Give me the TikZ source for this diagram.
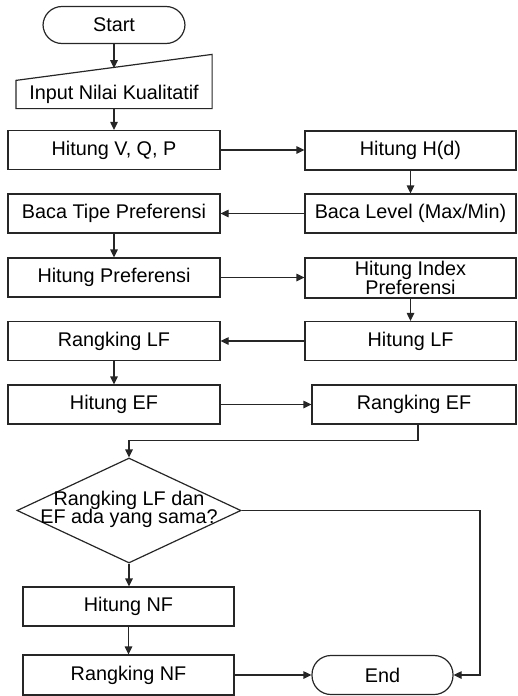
\documentclass[tikz,border=0pt]{standalone}
\usepackage{fontspec}
\setmainfont{Liberation Sans}
\usetikzlibrary{arrows.meta,shapes.geometric}
\begin{document}
\begin{tikzpicture}[x=1pt,y=-1pt,
  line width=1.2pt,
  every node/.style={font=\fontsize{19.8}{18.5}\selectfont, inner sep=0pt, align=center},
  proc/.style={draw=black!85, rectangle, minimum height=39pt},
  term/.style={draw=black!85, rectangle, rounded corners=19pt, minimum height=37pt},
  decision/.style={draw=black!85, diamond, minimum width=224pt, minimum height=105pt},
  arr/.style={draw=black!85, -{Triangle[length=8pt,width=7.5pt]}},
  ln/.style={draw=black!85}
]
\useasboundingbox (0,0) rectangle (517,696);

% start
\node[term, minimum width=142pt] (start) at (114,25) {Start};

% manual input: text node plus its slanted outline
\node[minimum width=195pt, minimum height=27pt] (input) at (114,94.5) {Input Nilai Kualitatif};
\draw[ln] (input.north west) -- ([yshift=26pt]input.north east) -- (input.south east) -- (input.south west) -- cycle;
\coordinate (intop) at (114,68.2);

% left column
\node[proc, minimum width=212pt] (hvqp)     at (114,150)   {Hitung V, Q, P};
\node[proc, minimum width=212pt] (bacatipe) at (114,213.5) {Baca Tipe Preferensi};
\node[proc, minimum width=212pt] (hpref)    at (114,277.5) {Hitung Preferensi};
\node[proc, minimum width=212pt] (rlf)      at (114,341)   {Rangking LF};
\node[proc, minimum width=212pt] (hef)      at (114,404.5) {Hitung EF};

% right column
\node[proc, minimum width=211pt] (hd)     at (410.5,150.5) {Hitung H(d)};
\node[proc, minimum width=211pt] (blevel) at (410.5,213.5) {Baca Level (Max/Min)};
\node[proc, minimum width=211pt, minimum height=40pt] (hindex) at (410.5,278) {Hitung Index\\Preferensi};
\node[proc, minimum width=211pt] (hlf)    at (410.5,341)   {Hitung LF};
\node[proc, minimum width=204pt] (ref)    at (414,404.5)   {Rangking EF};

% decision and closing steps
\node[decision] (dec) at (129,510.5) {};
\node (dectext) at (129,509.5) {Rangking LF dan\\EF ada yang sama?};
\node[proc, minimum width=211pt] (hnf) at (128.5,606.5) {Hitung NF};
\node[proc, minimum width=211pt, minimum height=40pt] (rnf) at (128.5,675) {Rangking NF};
\node[term, minimum width=141pt, minimum height=39pt] (end) at (382.5,675) {End};

\coordinate (join) at (129,440.5);
\coordinate (rside) at (480,0);

% connectors
\draw[arr] (start.south) -- (intop);
\draw[arr] (input.south) -- (hvqp.north);
\draw[arr] (hvqp.east) -- (hvqp.east -| hd.west);
\draw[arr] (hd.south) -- (blevel.north);
\draw[arr] (blevel.west) -- (blevel.west -| bacatipe.east);
\draw[arr] (bacatipe.south) -- (hpref.north);
\draw[arr] (hpref.east) -- (hpref.east -| hindex.west);
\draw[arr] (hindex.south) -- (hlf.north);
\draw[arr] (hlf.west) -- (rlf.east);
\draw[arr] (rlf.south) -- (hef.north);
\draw[arr] (hef.east) -- (ref.west);
\draw[arr] ([xshift=4pt]ref.south) |- (join) -- (dec.north);
\draw[arr] (dec.south) -- (dec.south |- hnf.north);
\draw[arr] (hnf.south) -- (rnf.north);
\draw[arr] (rnf.east) -- (end.west);
\draw[arr] (dec.east) -- (dec.east -| rside) |- (end.east);
\end{tikzpicture}
\end{document}
